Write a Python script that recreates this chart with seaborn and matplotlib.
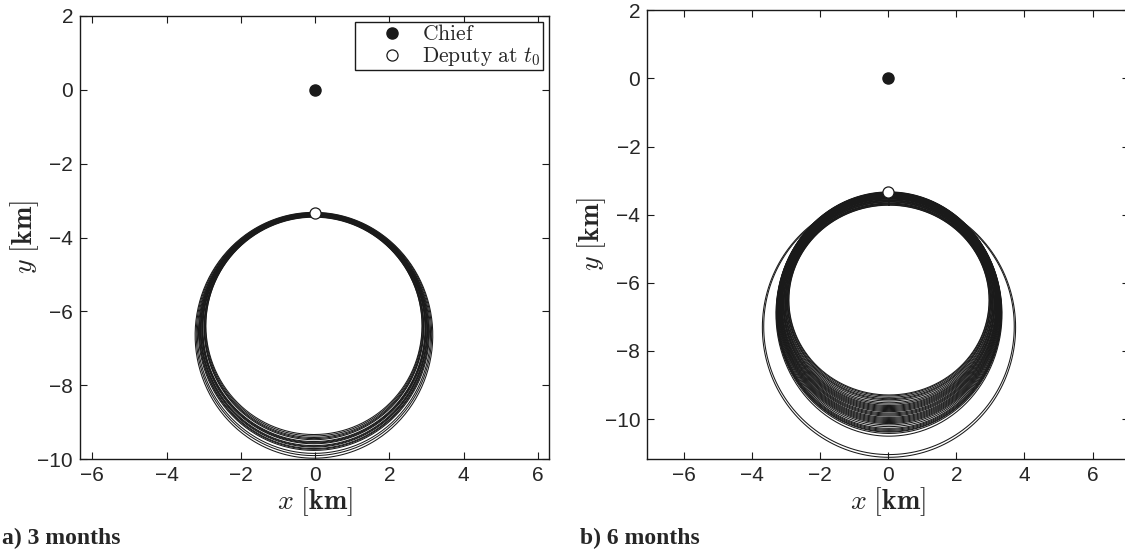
import numpy as np
import pandas as pd
import matplotlib.pyplot as plt
import seaborn as sns
from matplotlib.legend_handler import HandlerLine2D

# Relative orbit loops (km): top y, bottom y, half-width per loop
left_top = [-3.44, -3.45, -3.42, -3.43, -3.40, -3.41, -3.39, -3.38, -3.40,
            -3.37, -3.36, -3.38, -3.35, -3.36, -3.34, -3.35, -3.33, -3.32]
left_bottom = [-9.33, -9.37, -9.41, -9.44, -9.47, -9.52, -9.54, -9.56, -9.58,
               -9.63, -9.65, -9.67, -9.71, -9.73, -9.76, -9.84, -9.90, -9.97]
left_halfwidth = [2.91, 2.92, 2.94, 2.95, 2.96, 2.99, 3.00, 3.01, 3.02,
                  3.04, 3.05, 3.06, 3.08, 3.09, 3.11, 3.14, 3.17, 3.20]
left_xshift = -0.03

right_top = [-3.72, -3.71, -3.69, -3.68, -3.66, -3.66, -3.63, -3.62, -3.61, -3.59,
             -3.58, -3.57, -3.56, -3.54, -3.53, -3.52, -3.51, -3.49, -3.48, -3.47,
             -3.46, -3.45, -3.44, -3.42, -3.42, -3.41, -3.40, -3.39, -3.38, -3.37,
             -3.36, -3.35, -3.35, -3.34, -3.33, -3.52, -3.50]
right_bottom = [-9.29, -9.32, -9.36, -9.40, -9.43, -9.47, -9.52, -9.56, -9.60, -9.63,
                -9.66, -9.69, -9.72, -9.75, -9.78, -9.82, -9.85, -9.88, -9.91, -9.95,
                -9.98, -10.01, -10.04, -10.07, -10.10, -10.13, -10.17, -10.22, -10.27, -10.30,
                -10.33, -10.36, -10.38, -10.42, -10.50, -11.04, -11.12]
right_halfwidth = [2.94, 2.95, 2.97, 2.98, 2.99, 3.01, 3.02, 3.04, 3.05, 3.06,
                   3.08, 3.09, 3.10, 3.11, 3.13, 3.14, 3.15, 3.16, 3.17, 3.18,
                   3.19, 3.20, 3.21, 3.22, 3.23, 3.24, 3.25, 3.26, 3.27, 3.28,
                   3.29, 3.30, 3.30, 3.31, 3.32, 3.68, 3.72]
right_xshift = 0.02

chief = (0.0, 0.0)
deputy_t0 = (0.0, -3.33)

xticks = [-6, -4, -2, 0, 2, 4, 6]
left_yticks = [2, 0, -2, -4, -6, -8, -10]
right_yticks = [2, 0, -2, -4, -6, -8, -10]


def orbit_frame(tops, bottoms, halfwidths, xshift):
    t = np.linspace(0, 2 * np.pi, 361)
    parts = []
    for i, (top, bot, hw) in enumerate(zip(tops, bottoms, halfwidths)):
        yc = (top + bot) / 2
        hh = (top - bot) / 2
        parts.append(pd.DataFrame({"x": xshift + hw * np.sin(t),
                                   "y": yc + hh * np.cos(t),
                                   "loop": i}))
    return pd.concat(parts, ignore_index=True)


sns.set_theme(style="white")
plt.rcParams['font.family'] = ['Liberation Sans', 'DejaVu Sans']
plt.rcParams['mathtext.fontset'] = 'cm'

fig = plt.figure(figsize=(11.25, 5.53), dpi=100)
ax1 = fig.add_axes([80 / 1125, 1 - 459.3 / 553, 469 / 1125, 443.6 / 553])
ax2 = fig.add_axes([647.3 / 1125, 1 - 459 / 553, 482 / 1125, 448.7 / 553])

panels = [
    (ax1, orbit_frame(left_top, left_bottom, left_halfwidth, left_xshift),
     (-6.33, 6.30), (-10, 2), left_yticks),
    (ax2, orbit_frame(right_top, right_bottom, right_halfwidth, right_xshift),
     (-7.08, 7.08), (-11.17, 2), right_yticks),
]

for ax, df, xlim, ylim, yticks in panels:
    sns.lineplot(data=df, x="x", y="y", units="loop", estimator=None, sort=False,
                 color="k", lw=0.75, ax=ax, legend=False)
    ax.plot(*chief, "o", color="k", ms=8, zorder=5,
            label=r"$\mathrm{Chief}$")
    ax.plot(*deputy_t0, "o", mfc="white", mec="k", mew=0.9, ms=8, zorder=6,
            label=r"$\mathrm{Deputy\ at\ }t_0$")
    ax.set_xlim(*xlim)
    ax.set_ylim(*ylim)
    ax.set_xticks(xticks)
    ax.set_yticks(yticks)
    ax.tick_params(direction="in", top=True, right=True, bottom=True, left=True,
                   length=5, width=0.8, color="k", labelsize=15, pad=5)
    for s in ax.spines.values():
        s.set_color("k")
        s.set_linewidth(1.0)
    ax.set_xlabel(r"$x\ [\mathbf{km}]$", fontsize=20, labelpad=0)
    ax.set_ylabel(r"$y\ [\mathbf{km}]$", fontsize=20, labelpad=-2.5)

handler = HandlerLine2D(numpoints=1, xpad=0.6)
leg = ax1.legend(loc="upper right", fontsize=15.5, frameon=True, fancybox=False,
                 framealpha=1, edgecolor="k", borderaxespad=0.3,
                 handletextpad=0.35, borderpad=0.1, labelspacing=0.0,
                 handlelength=2.7,
                 handler_map={plt.Line2D: handler})
leg.get_frame().set_linewidth(1.0)

fig.text(2 / 1125, 1 - 544 / 553, "a) 3 months", fontfamily="Liberation Serif",
         fontweight="bold", fontsize=17, va="baseline")
fig.text(580 / 1125, 1 - 544 / 553, "b) 6 months", fontfamily="Liberation Serif",
         fontweight="bold", fontsize=17, va="baseline")

plt.savefig("out.png", dpi=100)
plt.close()
